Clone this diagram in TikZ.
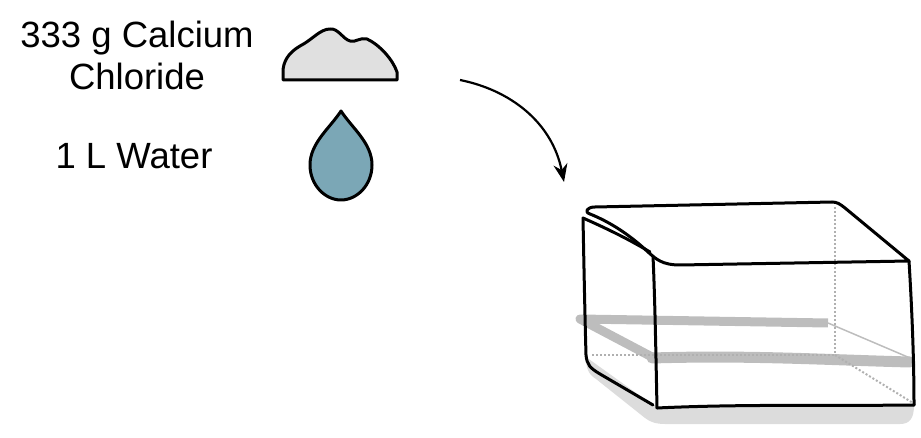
\documentclass[tikz,border=0pt]{standalone}
\usepackage{fontspec}
\setmainfont{Liberation Sans}
\usetikzlibrary{arrows.meta}

\definecolor{saltgray}{HTML}{E0E0E0}
\definecolor{dropblue}{HTML}{7BA7B6}
\definecolor{bandgray}{HTML}{BDBDBD}
\definecolor{shadowgray}{HTML}{DCDCDC}
\definecolor{hiddengray}{HTML}{B0B0B0}

\tikzset{
  label text/.style={align=center,font=\fontsize{36.5}{42}\selectfont},
  outline/.style={line width=3pt,line join=round,line cap=round},
  hidden/.style={hiddengray,line width=2pt,dotted},
}

\begin{document}
\begin{tikzpicture}[x=1pt,y=-1pt]
    \useasboundingbox (0,0) rectangle (921,438);

    % Place the nodes
    \node[label text] (calcium) at (137,55) {333 g Calcium\\Chloride};
    \node[label text] (water)   at (134,156) {1 L Water};

    % The salt pile
    \draw[outline,fill=saltgray] (283,80) -- (397,80) -- (397,72)
        .. controls (393,60) and (380,45) .. (367,39)
        .. controls (360,37) and (355,43) .. (350,41)
        .. controls (343,39) and (338,28) .. (330,29)
        .. controls (320,29) and (312,40) .. (300,46)
        .. controls (288,53) and (283,62) .. (283,72) -- cycle;

    % The water drop
    \draw[outline,fill=dropblue] (341,111)
        .. controls (330,128) and (310,143) .. (310,165)
        .. controls (310,185) and (325,200) .. (341,200)
        .. controls (357,200) and (372,185) .. (372,165)
        .. controls (372,143) and (352,128) .. (341,111) -- cycle;

    % The arrow into the tank
    \coordinate (arrowstart) at (460,80);
    \coordinate (arrowend)   at (564,182);
    \draw[line width=2.2pt,-{Stealth[length=18pt,width=14pt]}] (arrowstart)
        .. controls (510,90) and (552,122) .. (arrowend);

    % Shadow under the tank
    \fill[shadowgray] (586,357) .. controls (586,368) and (588,374) .. (596,379)
        -- (645,418) .. controls (650,422) and (656,424) .. (665,424)
        -- (900,424) .. controls (910,424) and (914,418) .. (914,405)
        -- (657,408) -- cycle;

    % Water level inside the tank
    \draw[bandgray,line width=9pt,line join=round] (652,357) -- (580,319) -- (828,323);
    \draw[bandgray,line width=11pt,line cap=round] (652,358) .. controls (750,355) and (830,360) .. (910,362);
    \draw[bandgray,line width=1.5pt] (828,323) -- (910,358);

    % Hidden edges
    \draw[hidden] (835,207) -- (835,355);
    \draw[hidden] (592,355) -- (835,355);
    \draw[hidden] (835,355) -- (913,403);

    % Draw the lines of the tank
    \draw[outline] (595,207) -- (832,202) .. controls (837,202) and (840,204) .. (845,208)
        -- (909,261) -- (680,265) .. controls (662,265) and (656,259) .. (648,252)
        .. controls (630,235) and (610,222) .. (590,214)
        .. controls (584,212) and (587,207) .. (595,207);
    \draw[outline] (583,218) .. controls (610,230) and (630,240) .. (650,252);
    \draw[outline] (583,218) .. controls (584,270) and (585,320) .. (586,355)
        .. controls (587,365) and (590,368) .. (600,374) -- (653,405);
    \draw[outline] (653,256) .. controls (655,300) and (656,360) .. (657,408);
    \draw[outline] (657,408) .. controls (740,404) and (830,406) .. (914,405);
    \draw[outline] (909,261) .. controls (912,310) and (914,360) .. (914,405);
\end{tikzpicture}
\end{document}
